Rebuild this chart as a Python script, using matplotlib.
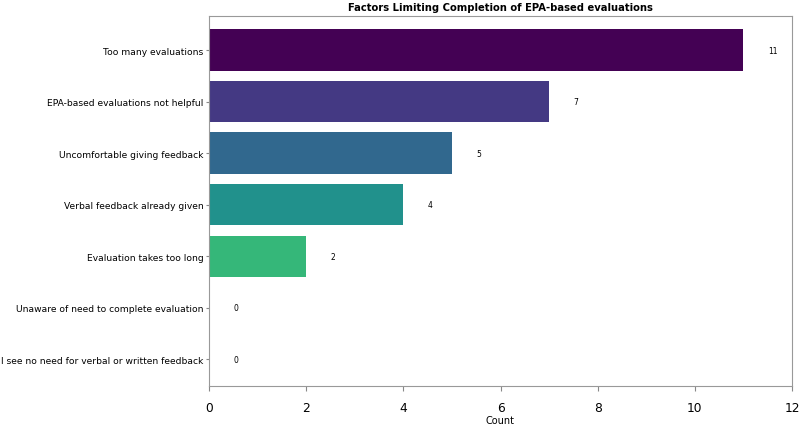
import numpy as np
import matplotlib
matplotlib.use("Agg")
import matplotlib.pyplot as plt

# === DATA ===
factors = [
    "Too many evaluations",
    "EPA-based evaluations not helpful",
    "Uncomfortable giving feedback",
    "Verbal feedback already given",
    "Evaluation takes too long",
    "Unaware of need to complete evaluation",
    "I see no need for verbal or written feedback",
]
counts = [11, 7, 5, 4, 2, 0, 0]
x_ticks = [0, 2, 4, 6, 8, 10, 12]

# === PLOT ===
fig = plt.figure(figsize=(8, 4.27), dpi=100)
ax = fig.add_axes([209 / 800, 40 / 427, 583 / 800, 370 / 427])

colors = plt.cm.viridis(np.linspace(0, 1, len(factors)))
ypos = np.arange(len(factors))
ax.barh(ypos, counts, height=0.8, color=colors)

for y, v in zip(ypos, counts):
    ax.text(v + 0.5, y, str(v), ha="left", va="center", fontsize=5.5)

ax.set_yticks(ypos)
ax.set_yticklabels(factors, fontsize=6.6)
ax.set_ylim(len(factors) - 0.5 + 0.02, -0.66)
ax.set_xlim(0, 12)
ax.set_xticks(x_ticks)
ax.tick_params(axis="x", labelsize=8.8, length=3.5, pad=7, color="#888888")
ax.tick_params(axis="y", length=2.5, pad=1.5, color="#888888")
ax.set_xlabel("Count", fontsize=7, labelpad=1)
ax.set_title("Factors Limiting Completion of EPA-based evaluations",
             fontsize=7.2, fontweight="bold", pad=4)

for s in ax.spines.values():
    s.set_color("#999999")

fig.savefig("out.png", dpi=100)
